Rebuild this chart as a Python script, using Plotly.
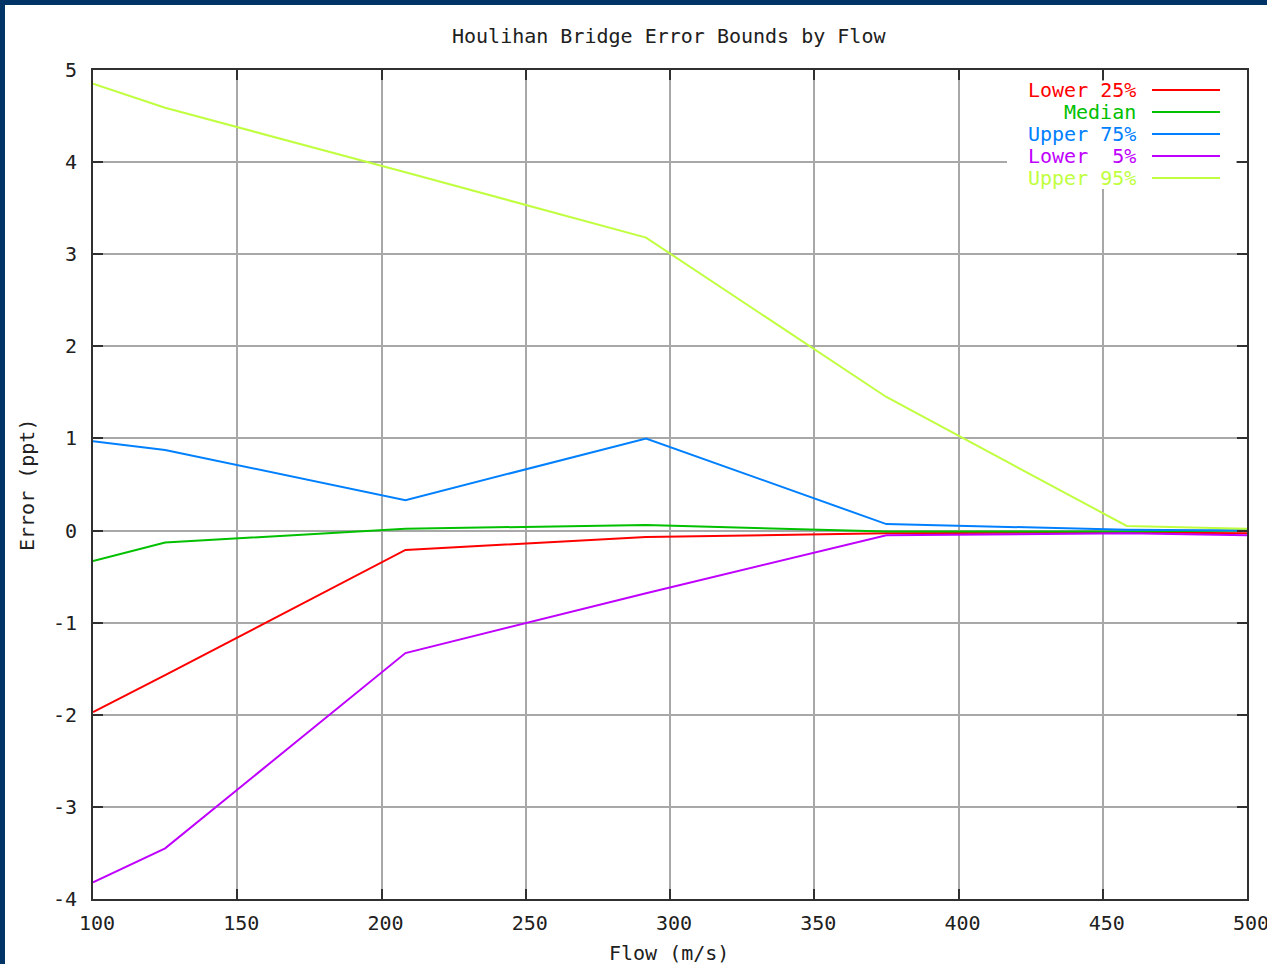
import plotly.graph_objects as go

flow = [100, 125, 208.3, 291.7, 375, 458.3, 500]
lower25 = [-1.97, -1.57, -0.21, -0.07, -0.03, -0.02, -0.03]
median = [-0.33, -0.13, 0.02, 0.06, -0.01, -0.01, 0.0]
upper75 = [0.97, 0.875, 0.33, 1.0, 0.07, 0.01, 0.0]
lower5 = [-3.82, -3.45, -1.33, -0.68, -0.05, -0.03, -0.05]
upper95 = [4.85, 4.59, 3.89, 3.18, 1.45, 0.05, 0.02]

series_names = ["Lower 25%", "Median", "Upper 75%", "Lower\u00a0\u00a05%", "Upper 95%"]
series_values = [lower25, median, upper75, lower5, upper95]
colors = ["#ff0000", "#00c000", "#0080ff", "#c000ff", "#c0ff40"]

x_ticks = [100, 150, 200, 250, 300, 350, 400, 450, 500]
x_labels = ["100", "150", "200", "250", "300", "350", "400", "450", "500"]
y_ticks = [-4, -3, -2, -1, 0, 1, 2, 3, 4, 5]
y_labels = ["-4", "-3", "-2", "-1", "0", "1", "2", "3", "4", "5"]

FONT = "DejaVu Sans Mono"
W, H = 1267, 964
L, R, T, B = 93, 20, 70, 65
pw, ph = W - L - R, H - T - B

def px(xp):
    return (xp - L) / pw

def py(yp):
    return (H - B - yp) / ph

fig = go.Figure()
for name, vals, c in zip(series_names, series_values, colors):
    fig.add_trace(go.Scatter(x=flow, y=vals, mode="lines", name=name,
                             line=dict(color=c, width=2), showlegend=False))

axis_common = dict(
    showgrid=True, gridcolor="#a8a8a8", gridwidth=2,
    showline=True, linecolor="#303030", linewidth=2, mirror="allticks",
    ticks="inside", ticklen=10, tickwidth=2, tickcolor="#303030",
    zeroline=False, tickfont=dict(family=FONT, size=20, color="#202020"),
    automargin=False, ticklabeloverflow="allow",
)
fig.update_xaxes(range=[100, 500], tickvals=x_ticks, ticktext=x_labels,
                 ticklabelstandoff=5, ticklabelshift=4, **axis_common)
fig.update_yaxes(range=[-4, 5], tickvals=y_ticks, ticktext=y_labels,
                 ticklabelstandoff=10, **axis_common)

annotations = [
    dict(text="Houlihan Bridge Error Bounds by Flow", x=px(669), y=py(36),
         xref="paper", yref="paper", showarrow=False, xanchor="center", yanchor="middle",
         font=dict(family=FONT, size=20, color="#202020")),
    dict(text="Flow (m/s)", x=px(669), y=py(953), xref="paper", yref="paper",
         showarrow=False, xanchor="center", yanchor="middle",
         font=dict(family=FONT, size=20, color="#202020")),
    dict(text="Error (ppt)", x=px(27), y=py(485), xref="paper", yref="paper",
         showarrow=False, xanchor="center", yanchor="middle", textangle=-90,
         font=dict(family=FONT, size=20, color="#202020")),
]
shapes = []
# legend background box (hides grid behind legend)
shapes.append(dict(type="rect", xref="paper", yref="paper", layer="above",
                   x0=px(1007), x1=px(1236), y0=py(189), y1=py(81),
                   fillcolor="white", line=dict(width=0)))
for i, (name, c) in enumerate(zip(series_names, colors)):
    yrow = 90 + 22 * i
    annotations.append(dict(text=name, x=px(1138), y=py(yrow), xref="paper", yref="paper",
                            showarrow=False, xanchor="right", yanchor="middle",
                            font=dict(family=FONT, size=20, color=c)))
    shapes.append(dict(type="line", xref="paper", yref="paper", layer="above",
                       x0=px(1152), x1=px(1220), y0=py(yrow), y1=py(yrow),
                       line=dict(color=c, width=2)))

# dark page border (left and top)
shapes.append(dict(type="rect", xref="paper", yref="paper", x0=px(-5), x1=px(5),
                   y0=py(H + 5), y1=py(-5), fillcolor="#003366", line=dict(width=0)))
shapes.append(dict(type="rect", xref="paper", yref="paper", x0=px(-5), x1=px(W + 5),
                   y0=py(5), y1=py(-5), fillcolor="#003366", line=dict(width=0)))

fig.update_layout(
    width=W, height=H, margin=dict(l=L, r=R, t=T, b=B), autosize=False,
    paper_bgcolor="white", plot_bgcolor="white",
    annotations=annotations, shapes=shapes, showlegend=False,
    font=dict(family=FONT),
)
fig.write_html("out.html", config={"responsive": False, "displayModeBar": False},
               post_script="document.body.style.margin='0';document.body.style.overflow='hidden';")
